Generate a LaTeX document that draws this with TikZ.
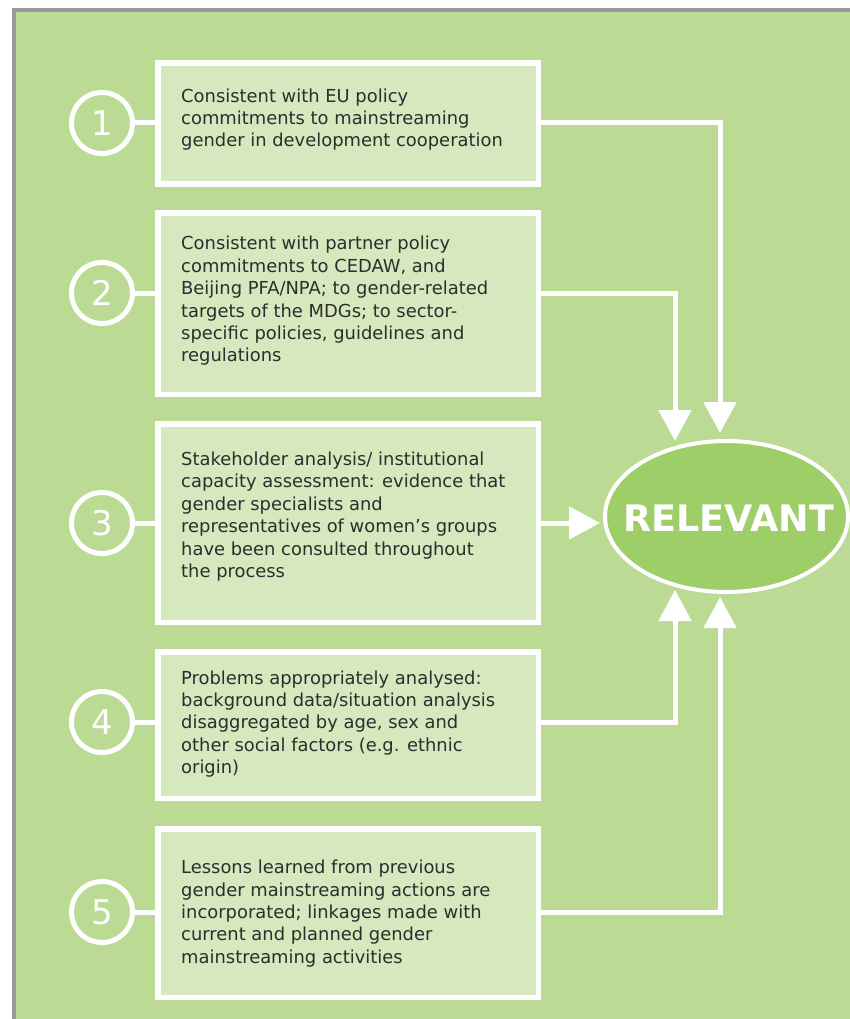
\documentclass[tikz,border=0pt]{standalone}
\usepackage{fontspec}
\setmainfont{DejaVu Sans}
\usepackage{xcolor}
\usetikzlibrary{arrows.meta, shapes.geometric, calc}
\definecolor{pagegreen}{RGB}{187,219,148}
\definecolor{boxgreen}{RGB}{214,232,190}
\definecolor{ovalgreen}{RGB}{157,206,104}
\definecolor{framegray}{RGB}{153,153,156}
\definecolor{textgray}{RGB}{45,45,45}
\tikzset{
  box/.style={
    draw=white,
    line width=5.5pt,
    fill=boxgreen,
    inner sep=0pt,
    minimum width=380.5pt},
  boxtext/.style={
    anchor=west,
    inner sep=0pt,
    align=left,
    text=textgray,
    font=\fontsize{17.9}{22.4}\selectfont},
  num/.style={
    circle,
    draw=white,
    line width=5pt,
    minimum size=61pt,
    inner sep=0pt,
    text=white,
    font=\fontsize{34}{34}\selectfont},
  link/.style={draw=white, line width=5pt},
  linkto/.style={link, -{Triangle[width=32pt,length=31pt]}},
  oval/.style={
    ellipse,
    draw=white,
    line width=4pt,
    fill=ovalgreen,
    minimum width=243pt,
    minimum height=151pt,
    inner sep=0pt},
  ovaltext/.style={
    inner sep=0pt,
    text=white,
    font=\bfseries\fontsize{36.5}{40}\selectfont}
  }

\begin{document}
\begin{tikzpicture}[x=1pt, y=-1pt]
      \useasboundingbox (0,0) rectangle (850,1019);
      \fill [framegray] (12,8) rectangle (850,1019);
      \fill [pagegreen] (16,12.5) rectangle (850,1019);
      \node [box, minimum height=121pt] (b1) at (348,123.4) {};
      \node [box, minimum height=181.5pt] (b2) at (348,303.5) {};
      \node [box, minimum height=198.5pt] (b3) at (348,523) {};
      \node [box, minimum height=146.5pt] (b4) at (348,725) {};
      \node [box, minimum height=168.5pt] (b5) at (348,913) {};
      \node [boxtext] (t1) at (181,119.5) {Consistent with EU policy\\
        commitments to mainstreaming\\ gender in development cooperation};
      \node [boxtext] (t2) at (181,301) {Consistent with partner policy\\
        commitments to CEDAW, and\\ Beijing PFA/NPA; to gender-related\\
        targets of the MDGs; to sector-\\ specific policies, guidelines and\\
        regulations};
      \node [boxtext] (t3) at (181,516.5) {Stakeholder analysis/ institutional\\
        capacity assessment: evidence that\\ gender specialists and\\
        representatives of women’s groups\\ have been consulted throughout\\
        the process};
      \node [boxtext] (t4) at (181,724) {Problems appropriately analysed:\\
        background data/situation analysis\\ disaggregated by age, sex and\\
        other social factors (e.g. ethnic\\ origin)};
      \node [boxtext] (t5) at (181,913.5) {Lessons learned from previous\\
        gender mainstreaming actions are\\ incorporated; linkages made with\\
        current and planned gender\\ mainstreaming activities};
      \node [num] (c1) at (102,123) {1};
      \node [num] (c2) at (102,293) {2};
      \node [num] (c3) at (102,523) {3};
      \node [num] (c4) at (102,722) {4};
      \node [num] (c5) at (102,912) {5};
      \node [oval] (rel) at (726.5,516.5) {};
      \node [ovaltext] (rel text) at (729,518) {RELEVANT};
      \coordinate (e1) at (720,433);
      \coordinate (e2) at (675,441);
      \coordinate (e3) at (600,523);
      \coordinate (e4) at (675,590);
      \coordinate (e5) at (720,597);
      \draw [link] (c1) -- (c1 -| b1.west);
      \draw [link] (c2) -- (c2 -| b2.west);
      \draw [link] (c3) -- (c3 -| b3.west);
      \draw [link] (c4) -- (c4 -| b4.west);
      \draw [link] (c5) -- (c5 -| b5.west);
      \draw [linkto] (c1 -| b1.east) -| (e1);
      \draw [linkto] (c2 -| b2.east) -| (e2);
      \draw [linkto] (c3 -| b3.east) -- (e3);
      \draw [linkto] (c4 -| b4.east) -| (e4);
      \draw [linkto] (c5 -| b5.east) -| (e5);
    \end{tikzpicture}
\end{document}
